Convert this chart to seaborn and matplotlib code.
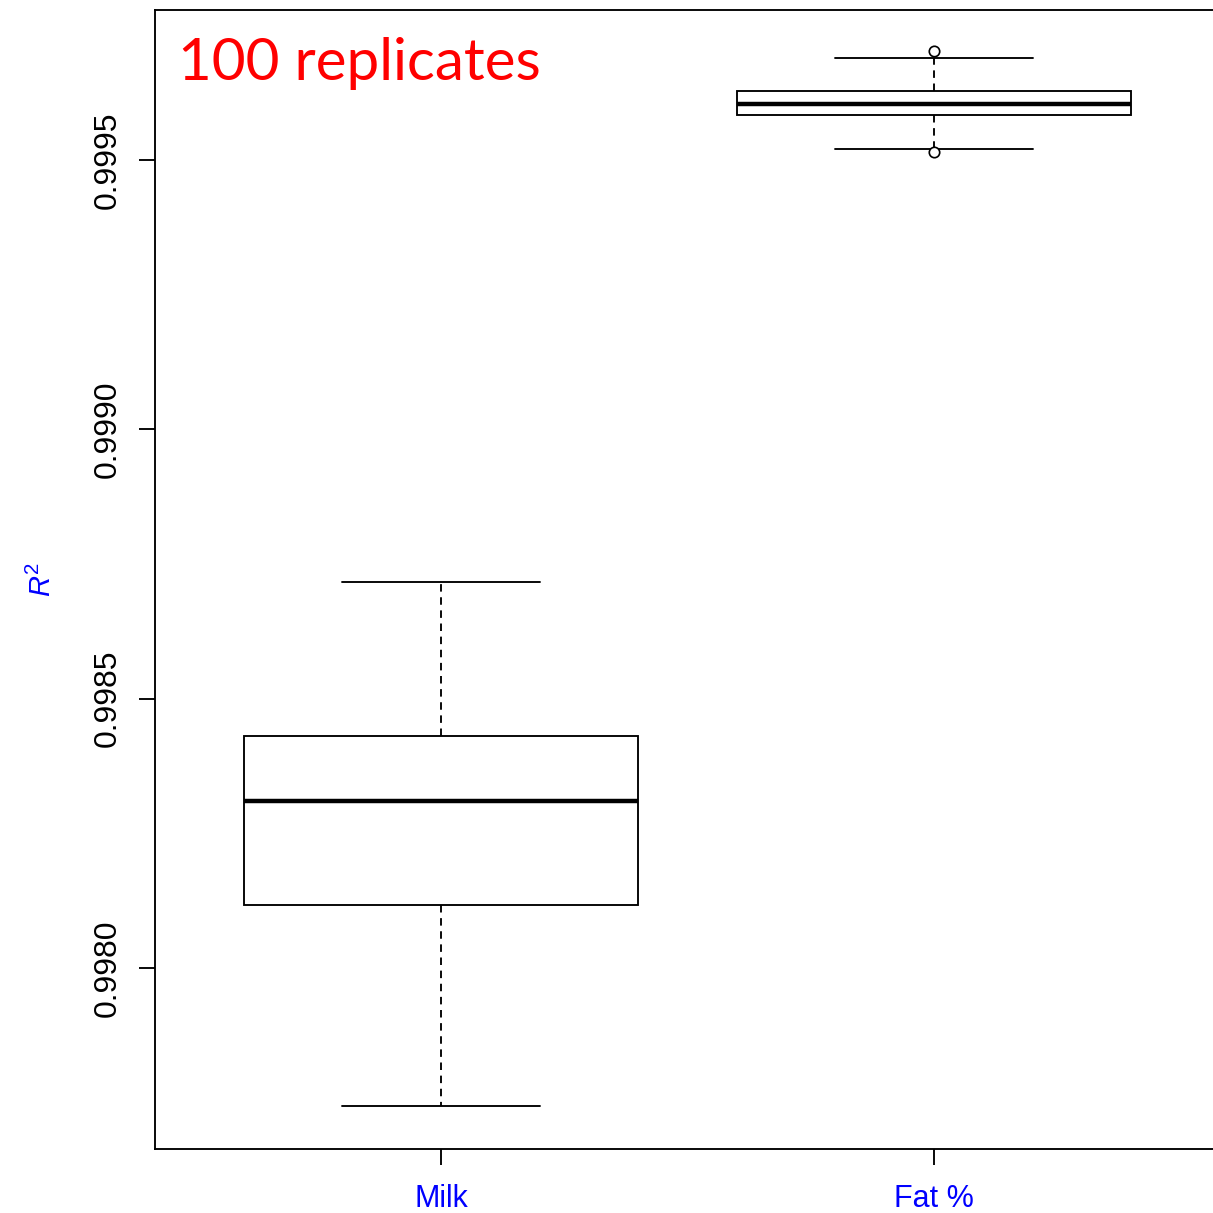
import numpy as np
import pandas as pd
import matplotlib
matplotlib.use("Agg")
import matplotlib.pyplot as plt
import seaborn as sns

# ---- data (five-number summaries) ----
categories = ["Milk", "Fat %"]
whisker_low = [0.997743, 0.999520]
q1 = [0.998117, 0.999584]
median = [0.998310, 0.999604]
q3 = [0.998431, 0.999628]
whisker_high = [0.998717, 0.999690]
outliers_low = [[], [0.999515]]
outliers_high = [[], [0.999703]]
y_ticks = [0.9980, 0.9985, 0.9990, 0.9995]
y_tick_labels = ["0.9980", "0.9985", "0.9990", "0.9995"]

# build value lists whose box statistics reproduce the summaries
rows = []
for i, cat in enumerate(categories):
    vals = (outliers_low[i] + [whisker_low[i], q1[i], q1[i], median[i],
                               q3[i], q3[i], whisker_high[i]] + outliers_high[i])
    for v in vals:
        rows.append({"group": cat, "R2": v})
df = pd.DataFrame(rows)

sns.set_style("white")
plt.rcParams["font.family"] = ["Liberation Sans", "DejaVu Sans"]
plt.rcParams["mathtext.fontset"] = "custom"
plt.rcParams["mathtext.it"] = "Liberation Sans:italic"
plt.rcParams["mathtext.rm"] = "Liberation Sans"

W = H = 1213
fig = plt.figure(figsize=(W / 100, H / 100), dpi=100)
ax = fig.add_axes([155 / W, (H - 1149) / H, 1065 / W, 1139 / H])

lw = 1.35
sns.boxplot(
    data=df, x="group", y="R2", order=categories, ax=ax,
    width=0.8, color="white", linecolor="black", linewidth=lw, whis=1.5,
    medianprops=dict(linewidth=3.2, color="black"),
    whiskerprops=dict(linestyle=(0, (4.0, 3.0)), linewidth=lw, color="black"),
    capprops=dict(linewidth=lw, color="black"),
    boxprops=dict(linewidth=lw, edgecolor="black", facecolor="white"),
    flierprops=dict(marker="o", markersize=7.5, markerfacecolor="white",
                    markeredgecolor="black", markeredgewidth=lw * 0.9),
)

ax.set_xlim(-0.58, 1.58)
ax.set_ylim(0.997664, 0.9997785)
ax.set_yticks(y_ticks)
ax.set_yticklabels(y_tick_labels)
ax.set_xlabel("")
ax.set_ylabel(r"$\mathit{R}^{2}$", color="#0000FF", fontsize=21)
ax.yaxis.set_label_coords(-0.092, 0.5)

for s in ax.spines.values():
    s.set_visible(True)
    s.set_color("black")
    s.set_linewidth(1.35)

ax.tick_params(axis="y", which="major", length=11.5, width=1.35, pad=12,
               labelsize=23, labelrotation=90, left=True, colors="black")
ax.tick_params(axis="x", which="major", length=11.5, width=1.35, pad=14,
               labelsize=22, bottom=True, labelcolor="#0000FF", color="black")
for lab in ax.get_yticklabels():
    lab.set_verticalalignment("center")

ax.text((178 - 155) / 1065, 1 - 70 / 1139, "100 replicates", transform=ax.transAxes,
        color="#FF0000", fontsize=42, family=["Lato", "DejaVu Sans"],
        ha="left", va="baseline")

fig.savefig("out.png", dpi=100)
